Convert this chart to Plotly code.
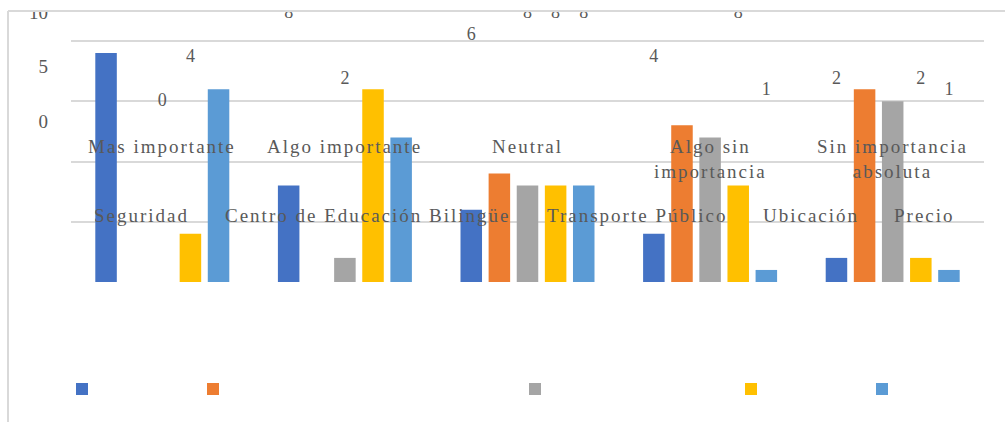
import textwrap
import plotly.graph_objects as go

# ---- data -------------------------------------------------------------
CATEGORIES = ["Mas importante", "Algo importante", "Neutral",
              "Algo sin importancia", "Sin importancia absoluta"]
SERIES = ["Seguridad", "Centro de Educación Bilingüe", "Transporte Público",
          "Ubicación", "Precio"]
SEGURIDAD = [19, 8, 6, 4, 2]
CENTRO_EDUCACION = [None, None, 9, 13, 16]
TRANSPORTE = [0, 2, 8, 12, 15]
UBICACION = [4, 16, 8, 8, 2]
PRECIO = [16, 12, 8, 1, 1]
AXIS_TICKS = [0, 5, 10]

VALUES = [SEGURIDAD, CENTRO_EDUCACION, TRANSPORTE, UBICACION, PRECIO]
COLORS = ["#4472C4", "#ED7D31", "#A5A5A5", "#FFC000", "#5B9BD5"]

# ---- layout geometry (pixels) ------------------------------------------
W, H = 1005, 422
PLOT_LEFT, PLOT_RIGHT, PLOT_BOTTOM = 71, 984, 282
GRID_TOP = 41                 # pixel row of the highest grid line
Y_MAX = 20                    # value at the highest grid line
PLOT_TOP = GRID_TOP - 2       # a little headroom so that line is drawn
LABEL_ZERO_PX, LABEL_UNIT_PX = 101.5, 11.0     # scale used by the value labels
TICK_ZERO_PX, TICK_UNIT_PX = 121.0, 10.9       # scale used by the side numbers
SWATCH_X = [76, 207, 529, 745, 876]
SWATCH_Y, SWATCH = 383, 12
NAME_DX, NAME_Y = 16, 215
CAT_Y = 134
FRAME_X, FRAME_Y = 8, 11

TEXT = "#595959"
GRID = "#D9D9D9"
FONT = "Liberation Serif"


def fx(p):
    return p / W


def fy(p):
    return 1 - p / H


fig = go.Figure()

for name, vals, color in zip(SERIES, VALUES, COLORS):
    fig.add_trace(go.Bar(
        x=CATEGORIES, y=vals, name=name,
        marker=dict(color=color, line=dict(width=0)),
        xaxis="x", yaxis="y", showlegend=False,
    ))

for name, vals in zip(SERIES, VALUES):
    fig.add_trace(go.Scatter(
        x=CATEGORIES, y=vals, name=name, mode="text",
        texttemplate="%{y}", textposition="middle center",
        textfont=dict(family=FONT, size=18, color=TEXT),
        xaxis="x", yaxis="y2", showlegend=False, cliponaxis=True,
        hoverinfo="skip",
    ))

# carrier for the side number axis
fig.add_trace(go.Scatter(x=[], y=[], xaxis="x", yaxis="y3",
                         showlegend=False, hoverinfo="skip"))

px_per_unit = (PLOT_BOTTOM - GRID_TOP) / Y_MAX
value_range = [0, (PLOT_BOTTOM - PLOT_TOP) / px_per_unit]
label_range = [-(PLOT_BOTTOM - LABEL_ZERO_PX) / LABEL_UNIT_PX,
               LABEL_ZERO_PX / LABEL_UNIT_PX]
tick_range = [-(PLOT_BOTTOM - TICK_ZERO_PX) / TICK_UNIT_PX,
              TICK_ZERO_PX / TICK_UNIT_PX]

shapes = [
    # white band that trims anything above the frame
    dict(type="rect", xref="paper", yref="paper", x0=0, x1=1,
         y0=fy(FRAME_Y - 0.5), y1=1.02, fillcolor="white",
         line=dict(width=0), layer="above"),
    # chart frame (top and left edges)
    dict(type="line", xref="paper", yref="paper", x0=fx(FRAME_X), x1=1.01,
         y0=fy(FRAME_Y), y1=fy(FRAME_Y), line=dict(color=GRID, width=2),
         layer="above"),
    dict(type="line", xref="paper", yref="paper", x0=fx(FRAME_X), x1=fx(FRAME_X),
         y0=fy(FRAME_Y), y1=-0.01, line=dict(color=GRID, width=2),
         layer="above"),
]
for sx, color in zip(SWATCH_X, COLORS):
    shapes.append(dict(type="rect", xref="paper", yref="paper",
                       x0=fx(sx), x1=fx(sx + SWATCH),
                       y0=fy(SWATCH_Y + SWATCH), y1=fy(SWATCH_Y),
                       fillcolor=color, line=dict(width=0), layer="above"))

annotations = []
for cat in CATEGORIES:
    annotations.append(dict(
        x=cat, xref="x", y=fy(CAT_Y), yref="paper",
        text="<br>".join(textwrap.wrap(cat, 16)),
        showarrow=False, xanchor="center", yanchor="top", align="center",
        font=dict(family=FONT, size=19, color=TEXT),
    ))
for sx, name in zip(SWATCH_X, SERIES):
    annotations.append(dict(
        x=fx(sx + NAME_DX), xref="paper", y=fy(NAME_Y), yref="paper",
        text=name, showarrow=False, xanchor="left", yanchor="middle",
        align="left", font=dict(family=FONT, size=19, color=TEXT),
    ))

fig.update_layout(
    width=W, height=H, autosize=False,
    margin=dict(l=0, r=0, t=0, b=0, pad=0),
    paper_bgcolor="white", plot_bgcolor="rgba(0,0,0,0)",
    barmode="group", bargap=0.23, bargroupgap=0.235,
    scattermode="group",
    xaxis=dict(domain=[fx(PLOT_LEFT), fx(PLOT_RIGHT)], anchor="y",
               type="category", categoryorder="array",
               categoryarray=CATEGORIES, showticklabels=False,
               showgrid=False, zeroline=False, showline=False, ticks=""),
    yaxis=dict(domain=[fy(PLOT_BOTTOM), fy(PLOT_TOP)], anchor="x",
               range=value_range, tick0=0, dtick=5, showticklabels=False,
               gridcolor=GRID, gridwidth=2, zeroline=False,
               showline=False, ticks=""),
    yaxis2=dict(domain=[fy(PLOT_BOTTOM), 1], anchor="x", range=label_range,
                visible=False),
    yaxis3=dict(domain=[fy(PLOT_BOTTOM), 1], anchor="free", position=fx(48),
                side="left", range=tick_range, tickmode="array",
                tickvals=AXIS_TICKS, showgrid=False, zeroline=False,
                showline=False, ticks="",
                tickfont=dict(family=FONT, size=19, color=TEXT)),
    shapes=shapes,
    annotations=annotations,
    showlegend=False,
)

# widen the tracking of the category and series names
spacing_js = (
    "document.querySelectorAll('.annotation-text').forEach("
    "function(t){t.style.letterSpacing='2px';});"
)

fig.write_html("out.html", post_script=spacing_js)
